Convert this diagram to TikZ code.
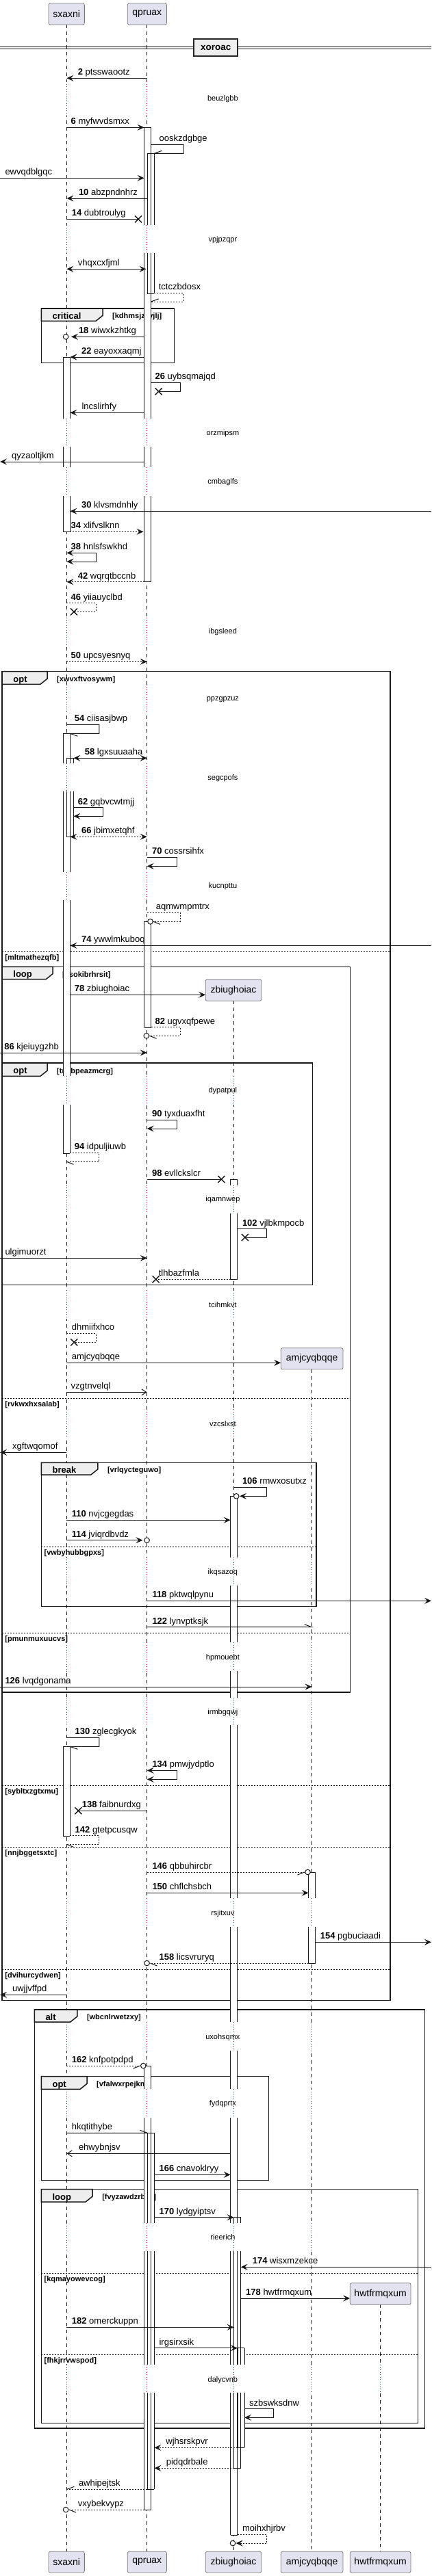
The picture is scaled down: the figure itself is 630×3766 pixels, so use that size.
\documentclass[tikz,border=0pt]{standalone}
\usepackage{fontspec}
\setmainfont{Liberation Sans}
\usetikzlibrary{arrows.meta}
\definecolor{lc}{HTML}{181818}
\definecolor{dly}{HTML}{A80036}
\definecolor{pf}{HTML}{E2E2F0}
\definecolor{pb}{HTML}{7A7A7A}
\definecolor{tabf}{HTML}{EEEEEE}
\tikzset{
  >={Stealth[length=10pt,width=9pt,inset=4pt]},
  ll/.style={draw=lc, line width=0.5pt, dash pattern=on 5pt off 5pt},
  dl/.style={draw=dly, line width=0.8pt, dash pattern=on 1pt off 2.5pt},
  ml/.style={draw=lc, line width=1pt},
  dm/.style={ml, dash pattern=on 2pt off 2pt},
  oa/.style={arrows={-Straight Barb[length=7pt,width=9pt]}},
  actl/.style={draw=lc, line width=0.8pt},
  lbl/.style={font=\fontsize{13}{15}\selectfont, inner sep=0pt, anchor=base west, text=black},
  dtxt/.style={font=\fontsize{11}{13}\selectfont, inner sep=0pt},
  part/.style={draw=pb, fill=pf, rounded corners=2.5pt, line width=0.8pt, font=\fontsize{14}{16}\selectfont, inner sep=0pt},
  frm/.style={draw=black!90, line width=1.5pt},
  tabt/.style={font=\bfseries\fontsize{13}{15}\selectfont, inner sep=0pt, anchor=base west},
  cond/.style={font=\bfseries\fontsize{11}{13}\selectfont, inner sep=0pt, anchor=base west},
  sepl/.style={draw=black, line width=1pt, dash pattern=on 2pt off 2pt},
}
\newcounter{nn}
\newcommand\labn[4]{\stepcounter{nn}\node[lbl] (t\thenn) at (#1,#2-4.5) {\textbf{#3} #4};}
\newcommand\lab[3]{\stepcounter{nn}\node[lbl] (t\thenn) at (#1,#2-4.5) {#3};}
\newcommand\xm[2]{\draw[lc, line width=1.4pt] (#1-5,#2-5) -- (#1+5,#2+5) (#1-5,#2+5) -- (#1+5,#2-5);}
\newcommand\cm[2]{\draw[ml, fill=white] (#1,#2) circle[radius=3.8pt];}
\newcommand\dlay[5]{%
  \foreach \xx in {#5}{\fill[white] (\xx-1.5,#1) rectangle (\xx+1.5,#2); \draw[dl] (\xx,#1) -- (\xx,#2);}
  \stepcounter{nn}\node[dtxt] (d\thenn) at (325.4,#3) {#4};}
\newcommand\grp[8]{%
  \draw[frm] (#1,#2) rectangle (#3,#4);
  \filldraw[frm, fill=tabf] (#1,#2) -- (#5,#2) -- (#5,#6-8) -- (#5-10,#6) -- (#1,#6) -- cycle;
  \stepcounter{nn}\node[tabt] (g\thenn) at (#1+16,{(#2+#6)/2+6.2}) {#7};
  \stepcounter{nn}\node[cond] (c\thenn) at (#5+14,{(#2+#6)/2+5.5}) {#8};}
\newcommand\els[4]{\draw[sepl] (#1,#3) -- (#2,#3);
  \stepcounter{nn}\node[cond] (e\thenn) at (#1+4,#3+12) {#4};}
\newcommand\actfill[5]{\fill[white] (#1,#2) rectangle (#1+10,#3);}
\newcommand\actdraw[5]{\draw[actl] (#1,#2) -- (#1,#3) (#1+10,#2) -- (#1+10,#3);
  \ifnum#4=1 \draw[actl] (#1,#2) -- (#1+10,#2);\fi
  \ifnum#5=1 \draw[actl] (#1,#3) -- (#1+10,#3);\fi}
\newcommand\actlist{%
  \actbox{210.6}{186.3}{329}{1}{0}
  \actbox{210.6}{370}{611.7}{0}{0}
  \actbox{210.6}{653.3}{683.3}{0}{0}
  \actbox{210.6}{725}{850.7}{0}{1}
  \actbox{215.4}{224.3}{329}{1}{0}
  \actbox{215.4}{370}{429}{0}{1}
  \actbox{92.4}{522}{611.7}{1}{0}
  \actbox{92.4}{653.3}{683.3}{0}{0}
  \actbox{92.4}{725}{777.3}{0}{1}
  \actbox{92.4}{1072.3}{1116}{1}{0}
  \actbox{92.4}{1157.3}{1275}{0}{0}
  \actbox{92.4}{1316}{1573.3}{0}{0}
  \actbox{92.4}{1615}{1686.3}{0}{1}
  \actbox{97.4}{1108.3}{1116}{1}{0}
  \actbox{97.4}{1157.3}{1223.3}{0}{1}
  \actbox{92.4}{2553.3}{2684.3}{1}{1}
  \actbox{210.6}{1347.3}{1502.3}{1}{1}
  \actbox{210.6}{3020}{3054.3}{1}{0}
  \actbox{210.6}{3096}{3250}{0}{0}
  \actbox{210.6}{3291}{3457.3}{0}{0}
  \actbox{210.6}{3498.3}{3669}{0}{1}
  \actbox{215.4}{3118.3}{3250}{1}{0}
  \actbox{215.4}{3291}{3457.3}{0}{0}
  \actbox{215.4}{3498.3}{3639.3}{0}{1}
  \actbox{336.7}{1724}{1732.7}{1}{0}
  \actbox{336.7}{1774.3}{1870.3}{0}{1}
  \actbox{336.7}{2187.3}{2276.7}{1}{0}
  \actbox{336.7}{2318.3}{2401}{0}{0}
  \actbox{336.7}{2443.3}{2481.7}{0}{0}
  \actbox{336.7}{2521.7}{2775.3}{0}{0}
  \actbox{336.7}{2816.7}{2956}{0}{0}
  \actbox{336.7}{2998.3}{3054.3}{0}{0}
  \actbox{336.7}{3096}{3250}{0}{0}
  \actbox{336.7}{3291}{3457.3}{0}{0}
  \actbox{336.7}{3498.3}{3706.3}{0}{1}
  \actbox{341.6}{3241.7}{3250}{1}{0}
  \actbox{341.6}{3291}{3457.3}{0}{0}
  \actbox{341.6}{3498.3}{3608.3}{0}{1}
  \actbox{346.9}{3432.7}{3457.3}{1}{0}
  \actbox{346.9}{3498.3}{3578.3}{0}{1}
  \actbox{450.7}{2737}{2775.3}{1}{0}
  \actbox{450.7}{2816.7}{2870}{0}{1}
}
\begin{document}
\begin{tikzpicture}[x=1pt,y=-1pt]
\fill[white] (0,0) rectangle (630,3766);
\useasboundingbox (0,0) rectangle (630,3766);
% lifelines
\draw[ll] (97.4,36) -- (97.4,3730.3);
\draw[ll] (214.7,36) -- (214.7,3730.3);
\draw[ll] (340.9,1463.3) -- (340.9,3730.3);
\draw[ll] (455.6,2001.7) -- (455.6,3730.3);
\draw[ll] (555.7,3369.3) -- (555.7,3730.3);
% delays
\dlay{119}{170}{144.3}{beuzlgbb}{97.4,214.7}
\dlay{329}{370}{350.7}{vpjpzqpr}{97.4,214.7}
\dlay{611.7}{653.3}{633.3}{orzmipsm}{97.4,214.7}
\dlay{683.3}{725}{705}{cmbaglfs}{97.4,214.7}
\dlay{903}{945}{924}{ibgsleed}{97.4,214.7}
\dlay{1001}{1043}{1022.3}{ppzgpzuz}{97.4,214.7}
\dlay{1116}{1157.3}{1137.3}{segcpofs}{97.4,214.7}
\dlay{1275}{1316}{1296}{kucnpttu}{97.4,214.7}
\dlay{1573.3}{1615}{1595}{dypatpul}{97.4,214.7,340.9}
\dlay{1732.7}{1774.3}{1754}{iqamnwep}{97.4,214.7,340.9}
\dlay{1886}{1928}{1907.3}{tcihmkvt}{97.4,214.7,340.9}
\dlay{2060}{2101}{2081.3}{vzcslxst}{97.4,214.7,340.9,455.6}
\dlay{2276.7}{2318.3}{2298.3}{ikqsazoq}{97.4,214.7,340.9,455.6}
\dlay{2401}{2443.3}{2423.3}{hpmouebt}{97.4,214.7,340.9,455.6}
\dlay{2481.7}{2521.7}{2503.3}{irmbgqwj}{97.4,214.7,340.9,455.6}
\dlay{2775.3}{2816.7}{2797.3}{rsjitxuv}{97.4,214.7,340.9,455.6}
\dlay{2956}{2998.3}{2978.7}{uxohsqmx}{97.4,214.7,340.9,455.6}
\dlay{3054.3}{3096}{3076}{fydqprtx}{97.4,214.7,340.9,455.6}
\dlay{3250}{3291}{3271}{rieerich}{97.4,214.7,340.9,455.6}
\dlay{3457.3}{3498.3}{3479.3}{dalycvnb}{97.4,214.7,340.9,455.6,555.7}
% separator
\draw[lc, line width=1pt] (0,68.5) -- (630,68.5) (0,71.5) -- (630,71.5);
\node[draw=black!85, line width=1.5pt, fill=tabf, minimum width=64pt, minimum height=25pt, inner sep=0pt, font=\bfseries\fontsize{13.5}{15}\selectfont] (sepx) at (315.2,69.5) {xoroac};
% frames
\grp{60.4}{451}{254.4}{530.7}{150}{469.3}{critical}{[kdhmsjzzvjlj]}
\grp{3.2}{981.7}{570}{2924.3}{69}{1000.3}{opt}{[xwvxftvosywm]}
\grp{3.2}{1413.3}{511.6}{2474}{77}{1431.7}{loop}{[ksokibrhrsit]}
\grp{3.2}{1554}{456.4}{1878.3}{69}{1573.3}{opt}{[tnvbpeazmcrg]}
\grp{60.4}{2138.3}{462}{2348.3}{142.8}{2156}{break}{[vrlqycteguwo]}
\grp{50.3}{2938}{620.7}{3550}{112.8}{2956}{alt}{[wbcnlrwetzxy]}
\grp{60.4}{3035.7}{392.3}{3187.3}{127}{3054.3}{opt}{[vfalwxrpejkm]}
\grp{60.4}{3200.7}{610.6}{3542.3}{135.1}{3219}{loop}{[fvyzawdzrbek]}
\els{3.2}{570}{1391.3}{[mltmathezqfb]}
\els{3.2}{570}{2610.3}{[sybltxzgtxmu]}
\els{3.2}{570}{2700.3}{[nnjbggetsxtc]}
\els{3.2}{570}{2879.3}{[dvihurcydwen]}
\els{3.2}{511.6}{2044}{[rvkwxhxsalab]}
\els{3.2}{511.6}{2387.3}{[pmunmuxuucvs]}
\els{60.4}{462}{2261}{[vwbyhubbgpxs]}
\els{60.4}{610.6}{3323}{[kqmayowevcog]}
\els{60.4}{610.6}{3442.3}{[fhkjrrvwspod]}
% participants
\node[part, minimum width=52.3pt, minimum height=31pt] (sx1) at (97.2,20.5) {sxaxni};
\node[part, minimum width=57.2pt, minimum height=31pt] (qp1) at (214.8,20.5) {qpruax};
\node[part, minimum width=81.6pt, minimum height=31.6pt] (zb1) at (341,1447.5) {zbiughoiac};
\node[part, minimum width=90.8pt, minimum height=31pt] (am1) at (455.6,1986.2) {amjcyqbqqe};
\node[part, minimum width=88.8pt, minimum height=31.6pt] (hw1) at (555.6,3353.5) {hwtfrmqxum};
\node[part, minimum width=52.3pt, minimum height=30.7pt] (sx2) at (97.2,3745.6) {sxaxni};
\node[part, minimum width=57.2pt, minimum height=30.7pt] (qp2) at (214.8,3745.6) {qpruax};
\node[part, minimum width=81.6pt, minimum height=30.7pt] (zb2) at (341,3745.6) {zbiughoiac};
\node[part, minimum width=90.8pt, minimum height=30.7pt] (am2) at (455.6,3745.6) {amjcyqbqqe};
\node[part, minimum width=88.8pt, minimum height=30.7pt] (hw2) at (555.6,3745.6) {hwtfrmqxum};
% activations
\let\actbox\actfill \actlist
\let\actbox\actdraw \actlist
% messages
\draw[ml,->] (214.7,114.3) -- (97.4,114.3); \labn{113.6}{114.3}{2}{ptsswaootz}
\draw[ml,->] (97.4,186.3) -- (210.6,186.3); \labn{103.5}{186.3}{6}{myfwvdsmxx}
\draw[ml] (220.6,211.3) -- (268,211.3) -- (268,224.3) -- (225.4,224.3) -- ++(11,-4); \lab{232.4}{211.3}{ooskzdgbge}
\draw[ml,->] (0,260.3) -- (210.6,260.3); \lab{7.3}{260.3}{ewvqdblgqc}
\draw[ml,->] (215.4,290) -- (97.4,290); \labn{114.8}{290}{10}{abzpndnhrz}
\draw[ml] (97.4,320.3) -- (202,320.3); \xm{202}{320.3} \labn{104.7}{320.3}{14}{dubtroulyg}
\draw[ml,<->] (97.4,393.3) -- (213.5,393.3); \lab{113.6}{393.3}{vhqxcxfjml}
\draw[dm] (225.4,428.3) -- (268,428.3) -- (268,441) -- (220.6,441); \draw[ml] (220.6,441) -- ++(11,-4); \lab{231.6}{428.3}{tctczbdosx}
\draw[ml,->] (210.6,492.3) -- (104,492.3); \cm{96.1}{492.3} \labn{114.8}{492.3}{18}{wiwxkzhtkg}
\draw[ml,->] (210.6,522) -- (102.4,522); \labn{118.9}{522}{22}{eayoxxaqmj}
\draw[ml] (220.6,559.3) -- (263,559.3) -- (263,572.3) -- (231.6,572.3); \xm{231.6}{572.3} \labn{226.4}{559.3}{26}{uybsqmajqd}
\draw[ml,->] (210.6,603.3) -- (102.4,603.3); \lab{119.3}{603.3}{lncslirhfy}
\draw[ml,->] (210.6,675) -- (0,675); \lab{17}{675}{qyzaoltjkm}
\draw[ml,->] (630,747.3) -- (102.4,747.3); \labn{118.9}{747.3}{30}{klvsmdnhly}
\draw[dm,->] (102.4,777.3) -- (209.5,777.3); \labn{103.5}{777.3}{34}{xlifvslknn}
\draw[ml,<->] (97.4,808.3) -- (140,808.3) -- (140,821) -- (97.4,821); \labn{103.5}{808.3}{38}{hnlsfswkhd}
\draw[dm,->] (210.6,850.7) -- (97.4,850.7); \labn{113.6}{850.7}{42}{wqrqtbccnb}
\draw[dm] (97.4,881.7) -- (140,881.7) -- (140,894.3) -- (108,894.3); \xm{108}{894.3} \labn{103.5}{881.7}{46}{yiiauyclbd}
\draw[dm,->] (97.4,967.3) -- (214.7,967.3); \labn{103.5}{967.3}{50}{upcsyesnyq}
\draw[ml] (97.4,1059.3) -- (144.8,1059.3) -- (144.8,1072.3) -- (102.4,1072.3) -- ++(11,4); \labn{108.7}{1059.3}{54}{ciisasjbwp}
\draw[ml,<->] (107.4,1108.3) -- (214.7,1108.3); \labn{123.7}{1108.3}{58}{lgxsuuaaha}
\draw[ml,->] (107.4,1180.7) -- (150,1180.7) -- (150,1193.3) -- (107.4,1193.3); \labn{113.6}{1180.7}{62}{gqbvcwtmjj}
\draw[dm,<->] (102.4,1223.3) -- (214.7,1223.3); \labn{118.9}{1223.3}{66}{jbimxetqhf}
\draw[ml,->] (214.7,1253.3) -- (258,1253.3) -- (258,1266.3) -- (214.7,1266.3); \labn{221.9}{1253.3}{70}{cossrsihfx}
\draw[dm] (214.7,1334.3) -- (263,1334.3) -- (263,1347.3) -- (223.3,1347.3); \cm{219.5}{1347.3} \draw[ml] (224,1347.3) -- ++(10,4); \lab{227.6}{1334.3}{aqmwmpmtrx}
\draw[ml,->] (630,1382.3) -- (102.4,1382.3); \labn{118.9}{1382.3}{74}{ywwlmkuboq}
\draw[ml,->] (102.4,1454.3) -- (300.2,1454.3); \labn{108.7}{1454.3}{78}{zbiughoiac}
\draw[dm] (220.6,1501.7) -- (263,1501.7) -- (263,1514.3) -- (217.6,1514.3); \cm{213.8}{1514.3} \draw[ml] (218.5,1514.3) -- ++(10,4); \labn{226.4}{1501.7}{82}{ugvxqfpewe}
\draw[ml,->] (0,1539) -- (214.7,1539); \labn{6.1}{1539}{86}{kjeiuygzhb}
\draw[ml,->] (214.7,1637.3) -- (258,1637.3) -- (258,1650) -- (214.7,1650); \labn{221.9}{1637.3}{90}{tyxduaxfht}
\draw[dm] (102.4,1685.3) -- (144.8,1685.3) -- (144.8,1698.3) -- (97.4,1698.3); \draw[ml] (97.4,1698.3) -- ++(10,4); \labn{108.7}{1685.3}{94}{idpuljiuwb}
\draw[ml] (214.7,1724) -- (323.3,1724); \xm{323.3}{1724} \labn{221.9}{1724}{98}{evllckslcr}
\draw[ml] (346.7,1796.7) -- (389.4,1796.7) -- (389.4,1809) -- (357.8,1809); \xm{357.8}{1809} \labn{353.8}{1796.7}{102}{vjlbkmpocb}
\draw[ml,->] (0,1839.3) -- (214.7,1839.3); \lab{7.3}{1839.3}{ulgimuorzt}
\draw[dm] (336.7,1870.3) -- (227.6,1870.3); \xm{227.6}{1870.3} \lab{231.6}{1870.3}{tlhbazfmla}
\draw[dm] (97.4,1949.3) -- (140,1949.3) -- (140,1962.3) -- (108.3,1962.3); \xm{108.3}{1962.3} \lab{104.7}{1949.3}{dhmiifxhco}
\draw[ml,->] (97.4,1992.3) -- (410.2,1992.3); \lab{104.7}{1992.3}{amjcyqbqqe}
\draw[ml,oa] (97.4,2035.3) -- (214.7,2035.3); \lab{103.5}{2035.3}{vzgtnvelql}
\draw[ml,->] (97.4,2123.3) -- (0,2123.3); \lab{17.9}{2123.3}{xgftwqomof}
\draw[ml,->] (340.9,2174.3) -- (389.4,2174.3) -- (389.4,2187.3) -- (350,2187.3); \cm{345.2}{2187.3} \labn{353.8}{2174.3}{106}{rmwxosutxz}
\draw[ml,->] (97.4,2222.3) -- (336.7,2222.3); \labn{104.7}{2222.3}{110}{nvjcgegdas}
\draw[ml,->] (97.4,2251.7) -- (208.5,2251.7); \cm{214.6}{2251.7} \labn{104.7}{2251.7}{114}{jviqrdbvdz}
\draw[ml,->] (214.7,2340.3) -- (630,2340.3); \labn{222.3}{2340.3}{118}{pktwqlpynu}
\draw[ml] (214.7,2378.7) -- (455.6,2378.7) -- ++(-11,-4); \labn{222.3}{2378.7}{122}{lynvptksjk}
\draw[ml,->] (0,2466) -- (455.6,2466); \labn{7.3}{2466}{126}{lvqdgonama}
\draw[ml] (97.4,2540.3) -- (144.8,2540.3) -- (144.8,2553.3) -- (102.4,2553.3) -- ++(11,4); \labn{109.5}{2540.3}{130}{zglecgkyok}
\draw[ml,<->] (214.7,2588.3) -- (258,2588.3) -- (258,2601.3) -- (214.7,2601.3); \labn{222.3}{2588.3}{134}{pmwjydptlo}
\draw[ml] (214.7,2647.3) -- (114.4,2647.3); \xm{114.4}{2647.3} \labn{119.7}{2647.3}{138}{faibnurdxg}
\draw[dm] (102.4,2683.7) -- (144.8,2683.7) -- (144.8,2696.3) -- (97.4,2696.3); \draw[ml] (97.4,2696.3) -- ++(10,4); \labn{109.5}{2683.7}{142}{gtetpcusqw}
\draw[dm] (214.7,2737) -- (445.7,2737); \cm{449.5}{2737} \draw[ml] (444.5,2737) -- ++(-10,4); \labn{222.3}{2737}{146}{qbbuhircbr}
\draw[ml,->] (214.7,2767.3) -- (450.7,2767.3); \labn{222.3}{2767.3}{150}{chflchsbch}
\draw[ml,->] (460.7,2839.3) -- (630,2839.3); \labn{467.7}{2839.3}{154}{pgbuciaadi}
\draw[dm] (450.7,2870) -- (218.4,2870); \cm{214.6}{2870} \draw[ml] (219.5,2870) -- ++(10,4); \labn{232.4}{2870}{158}{licsvruryq}
\draw[ml,->] (97.4,2916.3) -- (0,2916.3); \lab{17.9}{2916.3}{uwjjvffpd}
\draw[dm] (97.4,3020) -- (205.5,3020); \cm{209.3}{3020} \draw[ml] (204.5,3020) -- ++(-10,4); \labn{104.7}{3020}{162}{knfpotpdpd}
\draw[ml] (97.4,3118.3) -- (215.4,3118.3) -- ++(-11,-4); \lab{104.7}{3118.3}{hkqtithybe}
\draw[ml,oa] (336.7,3148.3) -- (97.4,3148.3); \lab{114.8}{3148.3}{ehwybnjsv}
\draw[ml,->] (225.4,3179.3) -- (336.7,3179.3); \labn{232.4}{3179.3}{166}{cnavoklryy}
\draw[ml,->] (225.4,3241.7) -- (341.6,3241.7); \labn{232.4}{3241.7}{170}{lydgyiptsv}
\draw[ml,->] (630,3314.3) -- (351.6,3314.3); \labn{368.7}{3314.3}{174}{wisxmzekce}
\draw[ml,->] (351.6,3360) -- (511.2,3360); \labn{359}{3360}{178}{hwtfrmqxum}
\draw[ml,->] (97.4,3402.3) -- (341.6,3402.3); \labn{104.7}{3402.3}{182}{omerckuppn}
\draw[ml,->] (225.4,3432.7) -- (346.9,3432.7); \lab{232.4}{3432.7}{irgsirxsik}
\draw[ml,->] (356.9,3521.7) -- (399.6,3521.7) -- (399.6,3534.3) -- (356.9,3534.3); \lab{363.9}{3521.7}{szbswksdnw}
\draw[dm,->] (346.9,3578.3) -- (225.4,3578.3); \lab{242.2}{3578.3}{wjhsrskpvr}
\draw[dm,->] (341.6,3608.3) -- (225.4,3608.3); \lab{242.6}{3608.3}{pidqdrbale}
\draw[dm] (215.4,3639.3) -- (97.4,3639.3); \draw[ml] (97.4,3639.3) -- ++(11,-4); \lab{114.8}{3639.3}{awhipejtsk}
\draw[dm] (210.6,3669) -- (99.9,3669); \cm{96.1}{3669} \draw[ml] (101,3669) -- ++(10,4); \lab{113.6}{3669}{vxybekvypz}
\draw[dm,->] (346.7,3705.3) -- (389.4,3705.3) -- (389.4,3718) -- (344.5,3718); \cm{340}{3718} \lab{353.8}{3705.3}{moihxhjrbv}
\end{tikzpicture}
\end{document}
